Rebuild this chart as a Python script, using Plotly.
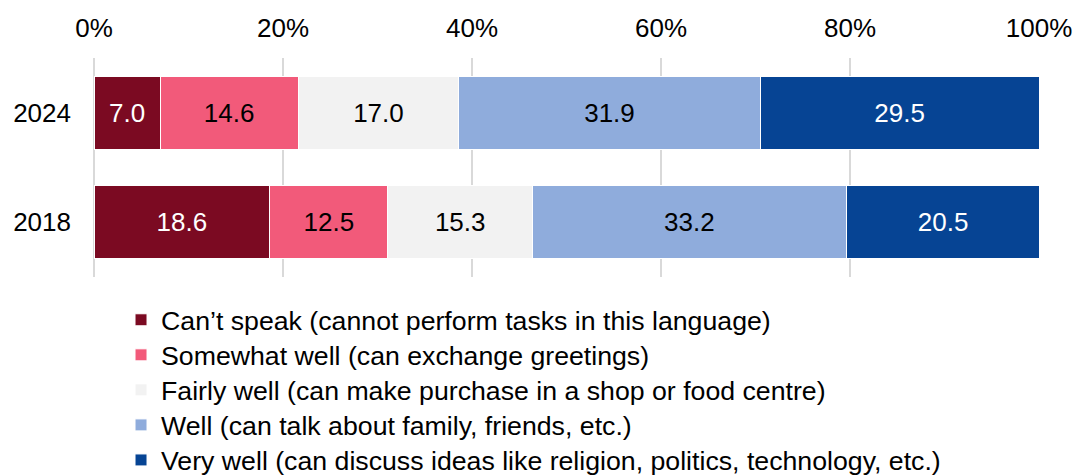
import plotly.graph_objects as go

years = ["2018", "2024"]
levels = [
    "Can\u2019t speak (cannot perform tasks in this language)",
    "Somewhat well (can exchange greetings)",
    "Fairly well (can make purchase in a shop or food centre)",
    "Well (can talk about family, friends, etc.)",
    "Very well (can discuss ideas like religion, politics, technology, etc.)",
]
cant_speak = [18.6, 7.0]
somewhat_well = [12.5, 14.6]
fairly_well = [15.3, 17.0]
well = [33.2, 31.9]
very_well = [20.5, 29.5]
tick_vals = [0, 20, 40, 60, 80, 100]
tick_text = ["0%", "20%", "40%", "60%", "80%", "100%"]

series = [cant_speak, somewhat_well, fairly_well, well, very_well]
colors = ["#7B0A22", "#F25A7A", "#F2F2F2", "#8FACDC", "#064494"]
text_colors = ["white", "black", "black", "black", "white"]

FS = 26
fig = go.Figure()
legends = {}
for i, (name, vals, col, tcol) in enumerate(zip(levels, series, colors, text_colors)):
    key = "legend" if i == 0 else "legend" + str(i + 1)
    fig.add_trace(go.Bar(
        y=years, x=vals, name=name, orientation="h", legend=key,
        marker=dict(color=col, line=dict(color="white", width=1)),
        texttemplate="%{x:.1f}", textposition="inside", insidetextanchor="middle",
        textfont=dict(color=tcol, size=FS), hoverinfo="skip",
    ))
    # one legend per row so the row spacing can follow the original
    legends[key] = dict(x=0.0286, y=-0.196 - 0.16 * i, xanchor="left", yanchor="middle",
                        font=dict(size=26.7), bgcolor="rgba(0,0,0,0)", itemwidth=30)

fig.update_layout(
    barmode="stack", bargap=0.33,
    width=1078, height=475,
    margin=dict(l=94, r=39, t=58, b=198, autoexpand=False),
    plot_bgcolor="white", paper_bgcolor="white",
    font=dict(family="Liberation Sans, Arial, sans-serif", size=FS, color="black"),
    uniformtext=dict(mode="show", minsize=FS),
    showlegend=True,
    **legends,
)
fig.update_xaxes(range=[0, 100], side="top", tickmode="array", tickvals=tick_vals, ticktext=tick_text,
                 showgrid=True, gridcolor="#D9D9D9", gridwidth=1.5,
                 zeroline=True, zerolinecolor="#D9D9D9", zerolinewidth=1.5,
                 showline=False, ticks="", ticklabelstandoff=15, automargin=False, fixedrange=True)
fig.update_yaxes(categoryorder="array", categoryarray=years, showgrid=False,
                 showline=False, ticks="", ticklabelstandoff=22, automargin=False, fixedrange=True)

fig.write_html("out.html", config={"displayModeBar": False},
               post_script="document.body.style.margin='0px';")
